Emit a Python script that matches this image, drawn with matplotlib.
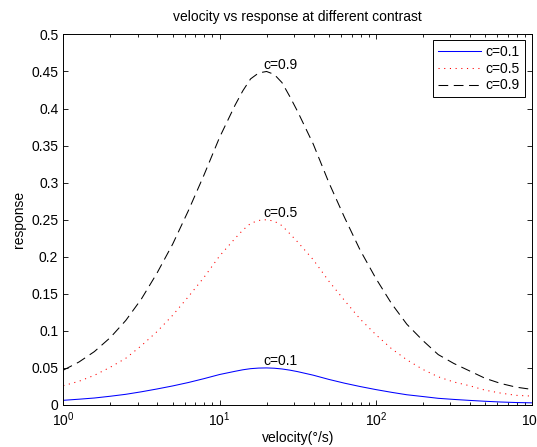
import numpy as np
import matplotlib
matplotlib.use("Agg")
import matplotlib.pyplot as plt
from matplotlib.ticker import LogLocator, MultipleLocator

plt.rcParams["font.family"] = ["Liberation Sans", "DejaVu Sans"]
plt.rcParams["lines.scale_dashes"] = False

# velocity samples (deg/s) and responses
velocity = [1, 1.26, 1.58, 2, 2.51, 3.16, 3.98, 5.01, 6.31, 7.94, 10, 12.6,
            14.1, 15.8, 17.8, 20, 22.4, 25.1, 28.2, 31.6, 39.8, 50.1, 63.1,
            79.4, 100, 126, 158, 200, 251, 316, 398, 501, 631, 794, 1000]
resp_c01 = [0.0063, 0.0078, 0.0094, 0.0118, 0.0144, 0.0178, 0.0216, 0.0257,
            0.0303, 0.0355, 0.0411, 0.0455, 0.0475, 0.0490, 0.0498, 0.0500,
            0.0496, 0.0486, 0.0470, 0.0450, 0.0402, 0.0345, 0.0294, 0.0249,
            0.0208, 0.0171, 0.0138, 0.0114, 0.0090, 0.0075, 0.0062, 0.0050,
            0.0040, 0.0033, 0.0029]
resp_c05 = [0.026, 0.032, 0.040, 0.051, 0.063, 0.080, 0.099, 0.121, 0.146,
            0.172, 0.201, 0.225, 0.236, 0.245, 0.249, 0.250, 0.248, 0.242,
            0.231, 0.220, 0.196, 0.167, 0.141, 0.116, 0.095, 0.076, 0.061,
            0.048, 0.038, 0.031, 0.026, 0.020, 0.016, 0.013, 0.012]
resp_c09 = [0.047, 0.058, 0.072, 0.091, 0.114, 0.143, 0.178, 0.217, 0.262,
            0.310, 0.361, 0.405, 0.424, 0.440, 0.448, 0.450, 0.446, 0.435,
            0.416, 0.396, 0.352, 0.300, 0.253, 0.209, 0.171, 0.137, 0.109,
            0.087, 0.068, 0.056, 0.046, 0.036, 0.029, 0.024, 0.021]
labels = ["c=0.1", "c=0.5", "c=0.9"]
label_x = 19
label_y = [0.059, 0.259, 0.459]

fig = plt.figure(figsize=(5.37, 4.47), dpi=100)
ax = fig.add_axes([0.1179, 0.0940, 0.8728, 0.8290])

ax.plot(velocity, resp_c01, color="#0000ff", lw=0.75, label=labels[0])
ax.plot(velocity, resp_c05, color="#ff0000", lw=0.75, label=labels[1],
        dashes=(0.8, 3.3))
ax.plot(velocity, resp_c09, color="black", lw=0.75, label=labels[2],
        dashes=(7, 4))

for txt, ty in zip(labels, label_y):
    ax.text(label_x, ty, txt, ha="left", va="center", fontsize=10)

ax.set_xscale("log")
ax.set_xlim(1, 1000)
ax.set_ylim(0, 0.5)
ax.yaxis.set_major_locator(MultipleLocator(0.05))
ax.xaxis.set_major_locator(LogLocator(base=10))
ax.xaxis.set_minor_locator(LogLocator(base=10, subs=np.arange(2, 10)))
ax.yaxis.set_major_formatter(plt.FuncFormatter(lambda v, p: f"{v:g}"))
ax.tick_params(which="both", direction="in", top=True, right=True,
               labelsize=10, width=0.6)
ax.tick_params(axis="y", pad=3.6)
ax.tick_params(axis="x", pad=4)
ax.tick_params(which="major", length=3.6)
ax.tick_params(which="minor", length=2.2)
for s in ax.spines.values():
    s.set_linewidth(0.7)

ax.set_title("velocity vs response at different contrast", fontsize=10, pad=10)
ax.set_xlabel("velocity(°/s)", fontsize=10, labelpad=1)
ax.set_ylabel("response", fontsize=10, labelpad=4)

leg = ax.legend(loc="upper right", bbox_to_anchor=(0.985, 0.985),
                borderaxespad=0, fontsize=10, fancybox=False,
                edgecolor="black", framealpha=1, handlelength=3.1,
                labelspacing=0.2, handletextpad=0.36, borderpad=0.35)
leg.get_frame().set_linewidth(0.7)

fig.savefig("out.png", dpi=100)
